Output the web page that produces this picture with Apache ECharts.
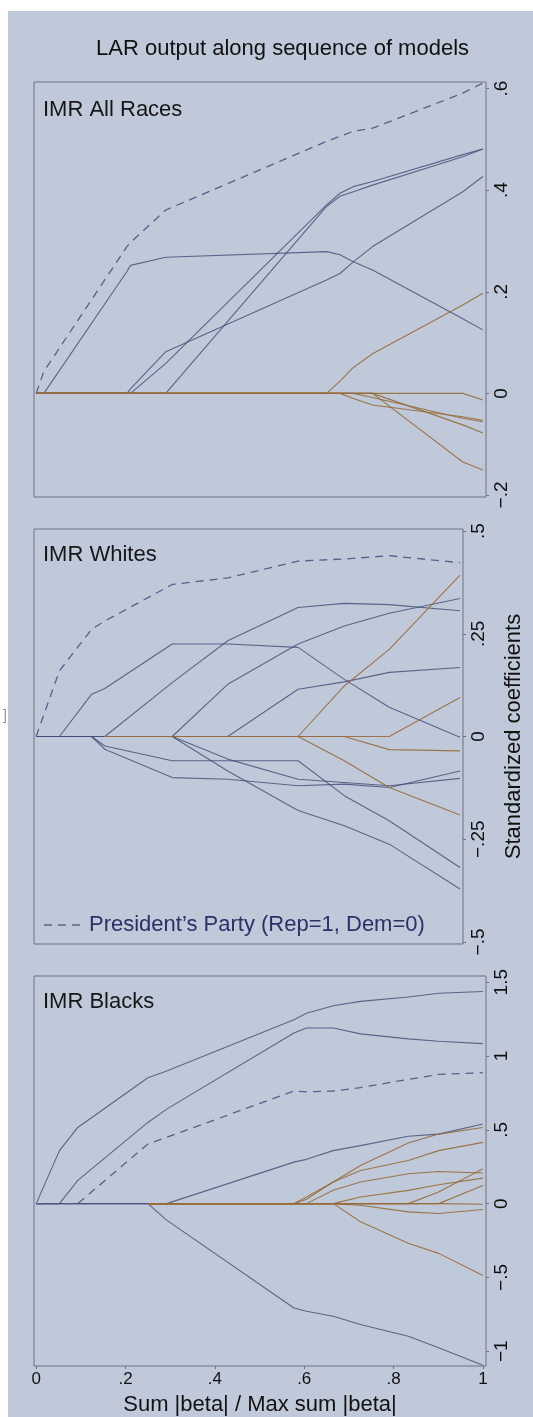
<!DOCTYPE html>
<html>
<head>
<meta charset="utf-8">
<script src="https://cdn.jsdelivr.net/npm/echarts@6/dist/echarts.min.js"></script>
<style>
  html, body { margin: 0; padding: 0; background: #ffffff; }
  #backdrop { position: absolute; left: 8px; top: 11px; width: 525px; height: 1406px; background: #c0c9d9; }
  #chart { position: absolute; left: 0; top: 0; width: 533px; height: 1417px; }
</style>
</head>
<body>
<div id="backdrop"></div>
<div id="chart"></div>
<script>
// ---- x axis (shared by the three panels) ----
const xTicks = [0, 0.2, 0.4, 0.6, 0.8, 1];

// ---- Panel 1: IMR All Races ----
const stepsAll = [0, 0.017, 0.203, 0.211, 0.29, 0.65, 0.68, 0.71, 0.753, 0.955, 1];
const yTicksAll = [-0.2, 0, 0.2, 0.4, 0.6];
const partyAll = [0, 0.043, 0.289, 0.297, 0.361, 0.496, 0.506, 0.516, 0.522, 0.591, 0.611];
const blueAll = [
  [0, 0, 0.240, 0.252, 0.268, 0.279, 0.273, 0.259, 0.243, 0.147, 0.125],
  [0, 0, 0, 0.009, 0.082, 0.223, 0.236, 0.259, 0.289, 0.397, 0.427],
  [0, 0, 0, 0, 0.059, 0.371, 0.394, 0.407, 0.417, 0.470, 0.481],
  [0, 0, 0, 0, 0, 0.368, 0.388, 0.397, 0.410, 0.466, 0.481]
];
const brownAll = [
  [0, 0, 0, 0, 0, 0, 0.024, 0.051, 0.078, 0.174, 0.197],
  [0, 0, 0, 0, 0, 0, 0, 0, 0, 0, -0.013],
  [0, 0, 0, 0, 0, 0, 0, -0.010, -0.023, -0.046, -0.053],
  [0, 0, 0, 0, 0, 0, 0, 0, -0.008, -0.049, -0.056],
  [0, 0, 0, 0, 0, 0, 0, 0, 0, -0.062, -0.078],
  [0, 0, 0, 0, 0, 0, 0, 0, 0, -0.135, -0.151]
];

// ---- Panel 2: IMR Whites ----
const stepsWhites = [0, 0.055, 0.131, 0.162, 0.321, 0.452, 0.618, 0.727, 0.833, 1];
const yTicksWhites = [-0.5, -0.25, 0, 0.25, 0.5];
const partyWhites = [0, 0.160, 0.261, 0.281, 0.370, 0.386, 0.427, 0.432, 0.440, 0.423];
const blueWhites = [
  [0, 0, 0.103, 0.117, 0.225, 0.225, 0.217, 0.139, 0.071, -0.002],
  [0, 0, 0, 0, 0.131, 0.233, 0.314, 0.324, 0.321, 0.306],
  [0, 0, 0, 0, 0, 0.127, 0.225, 0.269, 0.300, 0.336],
  [0, 0, 0, 0, 0, 0, 0.115, 0.133, 0.156, 0.168],
  [0, 0, 0, -0.023, -0.059, -0.059, -0.059, -0.144, -0.205, -0.319],
  [0, 0, 0, -0.031, -0.100, -0.104, -0.120, -0.116, -0.124, -0.084],
  [0, 0, 0, 0, 0, -0.084, -0.180, -0.217, -0.262, -0.371],
  [0, 0, 0, 0, 0, -0.055, -0.104, -0.112, -0.120, -0.102]
];
const brownWhites = [
  [null, null, null, 0, 0, 0, 0, 0.123, 0.212, 0.393],
  [null, null, null, 0, 0, 0, 0, 0, 0, 0.095],
  [null, null, null, 0, 0, 0, 0, 0, -0.032, -0.035],
  [null, null, null, 0, 0, 0, 0, -0.059, -0.124, -0.191]
];

// ---- Panel 3: IMR Blacks ----
const stepsBlacks = [0, 0.052, 0.093, 0.25, 0.292, 0.577, 0.605, 0.665, 0.726, 0.833, 0.901, 1];
const yTicksBlacks = [-1, -0.5, 0, 0.5, 1, 1.5];
const partyBlacks = [0, 0, 0, 0.404, 0.449, 0.763, 0.757, 0.763, 0.786, 0.842, 0.875, 0.887];
const blueBlacks = [
  [0, 0.359, 0.516, 0.853, 0.898, 1.246, 1.290, 1.340, 1.370, 1.400, 1.425, 1.437],
  [0, 0, 0.157, 0.550, 0.640, 1.156, 1.190, 1.190, 1.150, 1.116, 1.100, 1.084],
  [0, 0, 0, 0, 0, 0.281, 0.300, 0.359, 0.393, 0.456, 0.471, 0.539],
  [0, 0, 0, 0, -0.112, -0.707, -0.729, -0.763, -0.819, -0.898, -0.976, -1.095]
];
const brownBlacks = [
  [null, null, null, 0, 0, 0, 0.045, 0.146, 0.258, 0.411, 0.471, 0.516],
  [null, null, null, 0, 0, 0, 0.030, 0.146, 0.224, 0.292, 0.359, 0.415],
  [null, null, null, 0, 0, 0, 0, 0.090, 0.146, 0.202, 0.218, 0.207],
  [null, null, null, 0, 0, 0, 0, 0, 0.045, 0.090, 0.128, 0.173],
  [null, null, null, 0, 0, 0, 0, 0, 0, 0, 0.079, 0.236],
  [null, null, null, 0, 0, 0, 0, 0, 0, 0, 0, 0.123],
  [null, null, null, 0, 0, 0, 0, 0, -0.011, -0.056, -0.067, -0.040],
  [null, null, null, 0, 0, 0, 0, 0, -0.123, -0.269, -0.337, -0.487],
  [null, null, null, 0, 0, 0, 0, 0, 0, 0, 0, -0.004]
];

const panelTitles = ['IMR All Races', 'IMR Whites', 'IMR Blacks'];
const legendText = 'President\u2019s Party (Rep=1, Dem=0)';

// ---- styling ----
const FONT = '"Liberation Sans", Arial, Helvetica, sans-serif';
const BLUE = 'rgba(70, 77, 120, 0.82)';
const BROWN = 'rgba(150, 108, 56, 0.9)';
const DASH = '#56608c';
const FRAME = '#6c7280';

function tickText(v) {
  if (v === 0) return '0';
  const s = String(Math.abs(v)).replace(/^0\./, '.');
  return (v < 0 ? '\u2212' : '') + s;
}

const panels = [
  { steps: stepsAll, ticks: yTicksAll, party: partyAll, blue: blueAll, brown: brownAll,
    top: 82, height: 415, min: -0.204, max: 0.613 },
  { steps: stepsWhites, ticks: yTicksWhites, party: partyWhites, blue: blueWhites, brown: brownWhites,
    top: 529, height: 415, min: -0.505, max: 0.505 },
  { steps: stepsBlacks, ticks: yTicksBlacks, party: partyBlacks, blue: blueBlacks, brown: brownBlacks,
    top: 976, height: 393, min: -1.1, max: 1.542 }
];

const grid = [], xAxis = [], yAxis = [], series = [];
panels.forEach((p, k) => {
  grid.push({ left: 34, right: 47, top: p.top, height: p.height, show: true,
    borderColor: FRAME, borderWidth: 1, backgroundColor: 'transparent' });
  const last = k === panels.length - 1;
  xAxis.push({
    type: 'value', gridIndex: k, min: -0.005, max: 1.007,
    axisLine: { show: false, onZero: false }, splitLine: { show: false },
    axisTick: { show: last, customValues: xTicks, length: 3, lineStyle: { color: FRAME } },
    axisLabel: { show: last, customValues: xTicks, formatter: tickText, margin: 5,
      fontFamily: FONT, fontSize: 17, color: '#111' },
    name: last ? 'Sum |beta| / Max sum |beta|' : '', nameLocation: 'middle', nameGap: 28,
    nameTextStyle: { fontFamily: FONT, fontSize: 22, color: '#111' }
  });
  yAxis.push({
    type: 'value', gridIndex: k, position: 'right', min: p.min, max: p.max,
    axisLine: { show: false, onZero: false }, splitLine: { show: false },
    axisTick: { show: true, customValues: p.ticks, length: 3, lineStyle: { color: FRAME } },
    axisLabel: { customValues: p.ticks, formatter: tickText, rotate: 90, margin: 6,
      fontFamily: FONT, fontSize: 19, color: '#111' },
    name: k === 1 ? 'Standardized coefficients' : '', nameLocation: 'middle', nameGap: 40,
    nameRotate: 90, nameTextStyle: { fontFamily: FONT, fontSize: 22, color: '#111' }
  });
  const toPts = vals => vals.map((v, i) => [p.steps[i], v]);
  const base = { type: 'line', xAxisIndex: k, yAxisIndex: k, showSymbol: false, silent: true,
    animation: false, connectNulls: false };
  p.blue.forEach(vals => series.push(Object.assign({}, base, {
    data: toPts(vals), lineStyle: { color: BLUE, width: 1.1 } })));
  p.brown.forEach(vals => series.push(Object.assign({}, base, {
    data: toPts(vals), lineStyle: { color: BROWN, width: 1.1 } })));
  series.push(Object.assign({}, base, {
    name: k === 1 ? legendText : 'party' + k,
    data: toPts(p.party), lineStyle: { color: DASH, width: 1.3, type: [8, 6] } }));
});

const chart = echarts.init(document.getElementById('chart'), null, { renderer: 'canvas' });
chart.setOption({
  backgroundColor: 'transparent',
  animation: false,
  title: [
    { text: 'LAR output along sequence of models', left: 91, top: 33,
      textStyle: { fontFamily: FONT, fontSize: 22, fontWeight: 'normal', color: '#111' } }
  ].concat(panelTitles.map((t, k) => ({
    text: t, left: 38, top: [94, 539, 986][k],
    textStyle: { fontFamily: FONT, fontSize: 22, fontWeight: 'normal', color: '#161616' }
  }))),
  legend: {
    data: [legendText], left: 39, top: 909, itemWidth: 36, itemHeight: 2, itemGap: 8,
    icon: 'path://M0,0h8v1h-8z M14,0h8v1h-8z M28,0h8v1h-8z',
    textStyle: { fontFamily: FONT, fontSize: 22, color: '#2a3166', padding: [0, 0, 0, 4] },
    itemStyle: { color: '#2a3166' }, selectedMode: false
  },
  graphic: [
    { type: 'text', left: 3, top: 709, silent: true,
      style: { text: ']', font: '14px "Liberation Sans", Arial, sans-serif', fill: '#8a8f99' } }
  ],
  grid: grid, xAxis: xAxis, yAxis: yAxis, series: series
});
</script>
</body>
</html>
